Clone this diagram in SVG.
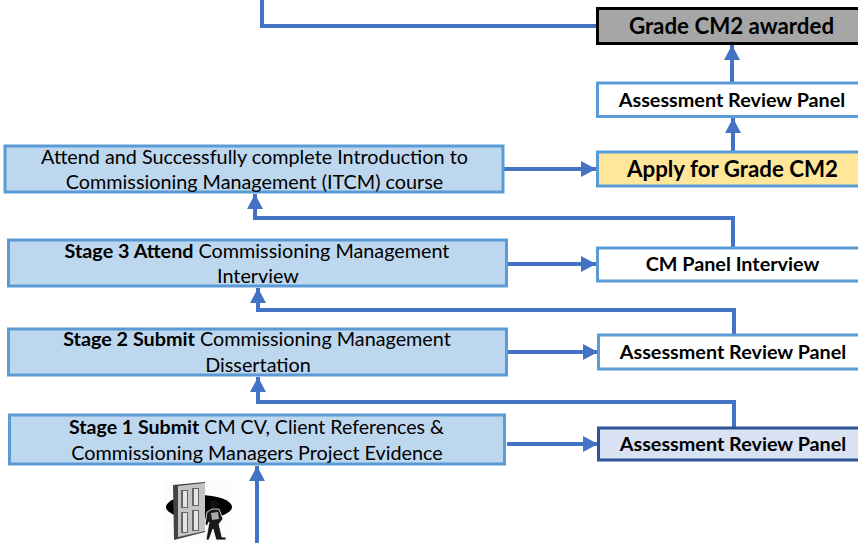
<svg xmlns="http://www.w3.org/2000/svg" width="858" height="543" viewBox="0 0 858 543">
<style>
text{font-family:Lato,"Liberation Sans",sans-serif;fill:#000;text-anchor:middle}
.l{font-size:19.800px}
.r{font-size:19.800px;font-weight:700}
.b{font-weight:700}
.big{font-size:22.300px;font-weight:700}
.bx{fill:#bdd7ee;stroke:#5b9bd5;stroke-width:3}
.wh{fill:#fff;stroke:#5b9bd5;stroke-width:3}
.c{fill:none;stroke:#4472c4;stroke-width:4}
</style>
<defs>
<marker id="a" markerUnits="userSpaceOnUse" markerWidth="16" markerHeight="16" refX="15" refY="8" orient="auto"><path d="M0 0L15 8L0 16Z" fill="#4472c4"/></marker>
</defs>
<g id="connectors">
<path class="c" d="M262 0V26H597"/>
<path class="c" d="M732 83V45" marker-end="url(#a)"/>
<path class="c" d="M733 152V118" marker-end="url(#a)"/>
<path class="c" d="M503 169H596" marker-end="url(#a)"/>
<path class="c" d="M733 248V218H255V194" marker-end="url(#a)"/>
<path class="c" d="M507 264H596" marker-end="url(#a)"/>
<path class="c" d="M734 335V310H258V288" marker-end="url(#a)"/>
<path class="c" d="M507 352H598" marker-end="url(#a)"/>
<path class="c" d="M734 428V402H258V377" marker-end="url(#a)"/>
<path class="c" d="M507 444H598" marker-end="url(#a)"/>
<path class="c" d="M257 543V466" marker-end="url(#a)"/>
</g>
<g id="grade-awarded"><rect x="597.500" y="8.500" width="270" height="35" fill="#a6a6a6" stroke="#000" stroke-width="3"/><text class="big" x="731.500" y="34">Grade CM2 awarded</text></g>
<g id="review-top"><rect class="wh" x="597.500" y="83" width="270" height="33.500"/><text class="r" x="732" y="107">Assessment Review Panel</text></g>
<g id="apply"><rect x="597.500" y="152" width="270" height="34" fill="#ffe699" stroke="#5b9bd5" stroke-width="3"/><text class="big" x="732.500" y="177">Apply for Grade CM2</text></g>
<g id="itcm"><rect class="bx" x="5" y="146" width="498" height="46"/><text class="l" x="254.500" y="164">Attend and Successfully complete Introduction to</text><text class="l" x="254.500" y="189">Commissioning Management (ITCM) course</text></g>
<g id="stage3"><rect class="bx" x="8.500" y="240" width="498" height="46"/><text class="l" x="257" y="258"><tspan class="b">Stage 3 Attend</tspan> Commissioning Management</text><text class="l" x="258" y="283">Interview</text></g>
<g id="cm-panel"><rect class="wh" x="597.500" y="248" width="270" height="33"/><text class="r" x="732.500" y="271">CM Panel Interview</text></g>
<g id="stage2"><rect class="bx" x="8.500" y="329" width="498" height="46"/><text class="l" x="257" y="346"><tspan class="b">Stage 2 Submit</tspan> Commissioning Management</text><text class="l" x="258" y="372">Dissertation</text></g>
<g id="review-2"><rect class="wh" x="598.500" y="335" width="270" height="34"/><text class="r" x="733" y="359">Assessment Review Panel</text></g>
<g id="stage1"><rect class="bx" x="9.500" y="415" width="495" height="49"/><text class="l" x="256.500" y="434" textLength="375" lengthAdjust="spacingAndGlyphs"><tspan class="b">Stage 1 Submit</tspan> CM CV, Client References &amp;</text><text class="l" x="257" y="460">Commissioning Managers Project Evidence</text></g>
<g id="review-3"><rect x="598.500" y="428" width="270" height="32" fill="#d9e2f3" stroke="#2f5597" stroke-width="3"/><text class="r" x="733" y="451">Assessment Review Panel</text></g>
<g id="door">
<rect x="164" y="481" width="69" height="62" fill="#fcfcfc"/>
<ellipse cx="199" cy="507" rx="33" ry="12" fill="#000"/>
<path d="M173 485L205 482V532L174 540Z" fill="#444"/>
<path d="M178 486L205 483V531L178 537Z" fill="#c4c4c4"/>
<path d="M181 490h7v18h-7zM192 488h7v18h-7zM181 512h7v21h-7zM192 510h7v21h-7z" fill="#666"/>
<path d="M183 491h4v16h-4zM194 489h4v16h-4zM183 513h4v19h-4zM194 511h4v19h-4z" fill="#e4e4e4"/>
<circle cx="214" cy="504" r="4" fill="#111"/>
<path d="M207 512L212 509H219L223 519L219 524L222 537H226V540H216L213 529L209 540H206L209 522L207 526L205 524Z" fill="#1a1a1a" stroke="#fff" stroke-width=".8"/>
<path d="M211 513L218 512L219 519L212 520Z" fill="#aaa"/>
</g>
</svg>
